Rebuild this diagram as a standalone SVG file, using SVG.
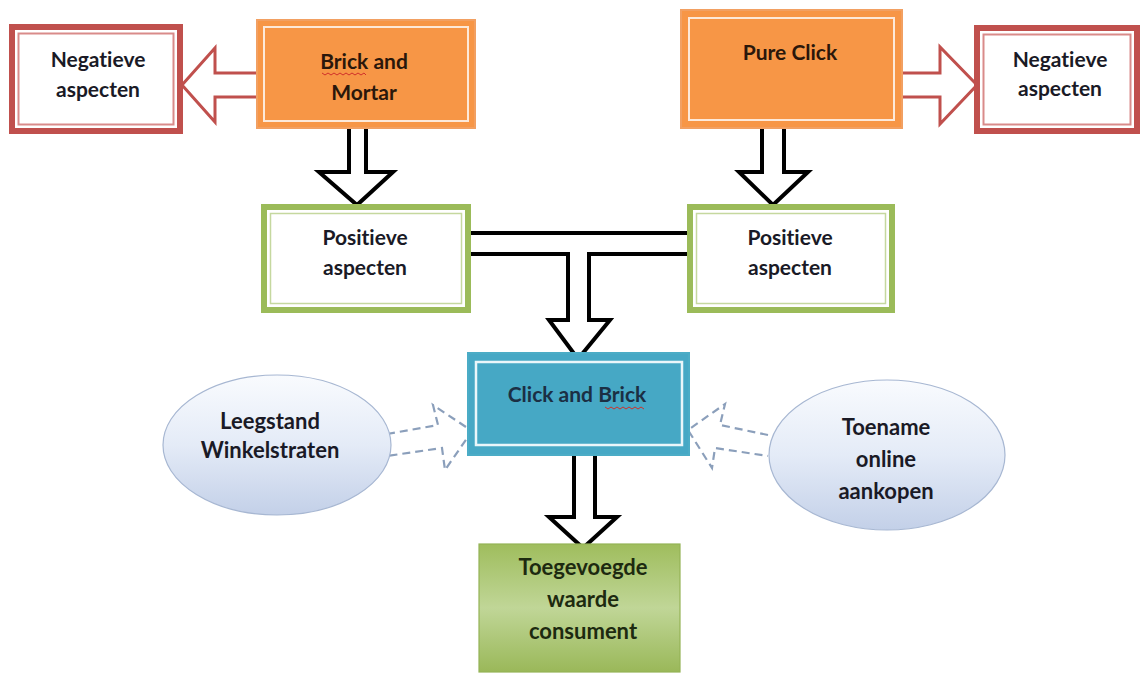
<svg xmlns="http://www.w3.org/2000/svg" width="1141" height="673" viewBox="0 0 1141 673">
  <defs>
    <linearGradient id="ellGrad" x1="0" y1="0" x2="0" y2="1">
      <stop offset="0" stop-color="#f9fbfe"/>
      <stop offset="0.5" stop-color="#e4ebf7"/>
      <stop offset="1" stop-color="#c3d0e8"/>
    </linearGradient>
    <linearGradient id="greenGrad" x1="0" y1="0" x2="0" y2="1">
      <stop offset="0" stop-color="#9fbd5d"/>
      <stop offset="0.5" stop-color="#c0d697"/>
      <stop offset="1" stop-color="#9ab859"/>
    </linearGradient>
  </defs>
  <style>
    text { font-family: Lato, "Open Sans", "Liberation Sans", sans-serif; font-weight: bold; font-size: 21px; text-anchor: middle; fill: #1a1a26; font-variant-ligatures: none; font-feature-settings: "liga" 0, "dlig" 0; }
    .neg-outer { fill: #ffffff; stroke: #c0504d; stroke-width: 6; }
    .neg-inner { fill: none; stroke: #d98b8a; stroke-width: 2; }
    .org-outer { fill: #f79646; stroke: #f2a062; stroke-width: 2; }
    .org-inner { fill: none; stroke: #fde9d9; stroke-width: 2; }
    .pos-outer { fill: #ffffff; stroke: #9bbb59; stroke-width: 6; }
    .pos-inner { fill: none; stroke: #c5d89f; stroke-width: 1.5; }
    .blue-outer { fill: #46a8c5; stroke: #4bacc6; stroke-width: 2; }
    .blue-inner { fill: none; stroke: #eaf6fa; stroke-width: 2.5; }
    .ell { fill: url(#ellGrad); stroke: #a7b7d2; stroke-width: 1.2; }
    .red-arrow { fill: #ffffff; stroke: #c0504d; stroke-width: 3; stroke-linejoin: miter; }
    .blk-arrow { fill: #ffffff; stroke: #000000; stroke-width: 4; stroke-linejoin: miter; }
    .dash-arrow { fill: none; stroke: #8b9fbb; stroke-width: 2.2; stroke-dasharray: 8 5; }
    .squiggle { fill: none; stroke: #d0302a; stroke-width: 1; }
    .brown { fill: #2a170b; }
    .navy { fill: #1b2f44; }
    .dgreen { fill: #1d2a10; }
  </style>

  <g id="connectors">
    <path class="red-arrow" d="M258,73 L215,73 L215,48 L182,85 L215,122 L215,97 L258,97"/>
    <path class="red-arrow" d="M890,73 L940,73 L940,47 L977,85 L940,124 L940,97 L890,97"/>
    <path class="blk-arrow" d="M349,128 L349,172 L319,172 L357,205 L393,172 L366,172 L366,128"/>
    <path class="blk-arrow" d="M762,128 L762,172 L739,172 L773,205 L808,172 L784,172 L784,128"/>
    <g id="t-connector">
      <path class="blk-arrow" fill="none" d="M471,233 L687,233"/>
      <path class="blk-arrow" d="M471,254 L568,254 L568,320 L549,320 L578,359 L610,320 L589,320 L589,254 L687,254"/>
      <polygon points="462,243 471,238 471,248" fill="#000"/>
      <polygon points="696,243 687,238 687,248" fill="#000"/>
    </g>
    <path class="blk-arrow" d="M574,455 L574,517 L549,517 L583,548 L617,517 L595,517 L595,455"/>
    <path class="dash-arrow" d="M387,434 L438,425 L433,405 L472,431 L445,470 L442,448 L387,456"/>
    <path class="dash-arrow" d="M768,435 L720,425 L725,404 L688,430 L712,468 L715,448 L768,456"/>
  </g>

  <g id="neg-left">
    <rect class="neg-outer" x="12" y="27" width="168" height="104"/>
    <rect class="neg-inner" x="18.5" y="33.5" width="155" height="91"/>
    <text x="98" y="67">Negatieve</text>
    <text x="98" y="97">aspecten</text>
  </g>

  <g id="brick-mortar">
    <rect class="org-outer" x="257" y="20" width="218" height="108"/>
    <rect class="org-inner" x="264" y="27" width="204" height="94"/>
    <text class="brown" x="364" y="69">Brick and</text>
    <text class="brown" x="364" y="100">Mortar</text>
    <path class="squiggle" d="M322,73 l3,2 l3,-2 l3,2 l3,-2 l3,2 l3,-2 l3,2 l3,-2 l3,2 l3,-2 l3,2 l3,-2 l3,2 l3,-2 l2,2"/>
  </g>

  <g id="pure-click">
    <rect class="org-outer" x="681" y="10" width="221" height="118"/>
    <rect class="org-inner" x="689" y="18" width="205" height="102"/>
    <text class="brown" x="790" y="60">Pure Click</text>
  </g>

  <g id="neg-right">
    <rect class="neg-outer" x="977" y="28" width="160" height="103"/>
    <rect class="neg-inner" x="983.5" y="34.5" width="147" height="90"/>
    <text x="1060" y="67">Negatieve</text>
    <text x="1060" y="96">aspecten</text>
  </g>

  <g id="pos-left">
    <rect class="pos-outer" x="264" y="207" width="204" height="103"/>
    <rect class="pos-inner" x="270.5" y="213.5" width="191" height="90"/>
    <text x="365" y="245">Positieve</text>
    <text x="365" y="275">aspecten</text>
  </g>

  <g id="pos-right">
    <rect class="pos-outer" x="690" y="207" width="202" height="103"/>
    <rect class="pos-inner" x="696.5" y="213.5" width="189" height="90"/>
    <text x="790" y="245">Positieve</text>
    <text x="790" y="275">aspecten</text>
  </g>

  <g id="click-brick">
    <rect class="blue-outer" x="468" y="353" width="221" height="102"/>
    <rect class="blue-inner" x="476" y="362" width="206" height="83"/>
    <text class="navy" x="577" y="402">Click and Brick</text>
    <path class="squiggle" d="M605,407 l3,2 l3,-2 l3,2 l3,-2 l3,2 l3,-2 l3,2 l3,-2 l3,2 l3,-2 l3,2 l3,-2 l3,2"/>
  </g>

  <g id="leegstand">
    <ellipse class="ell" cx="277" cy="445" rx="114" ry="70"/>
    <text x="270" y="429" style="font-size:22px">Leegstand</text>
    <text x="270" y="458" style="font-size:22px">Winkelstraten</text>
  </g>

  <g id="toename">
    <ellipse class="ell" cx="887" cy="455" rx="118" ry="75"/>
    <text x="886" y="435" style="font-size:22px">Toename</text>
    <text x="886" y="467" style="font-size:22px">online</text>
    <text x="886" y="499" style="font-size:22px">aankopen</text>
  </g>

  <g id="toegevoegde">
    <rect x="479" y="544" width="201" height="128" fill="url(#greenGrad)" stroke="#94b356" stroke-width="1.2"/>
    <text class="dgreen" x="583" y="575" style="font-size:22px">Toegevoegde</text>
    <text class="dgreen" x="583" y="607" style="font-size:22px">waarde</text>
    <text class="dgreen" x="583" y="639" style="font-size:22px">consument</text>
  </g>
</svg>
